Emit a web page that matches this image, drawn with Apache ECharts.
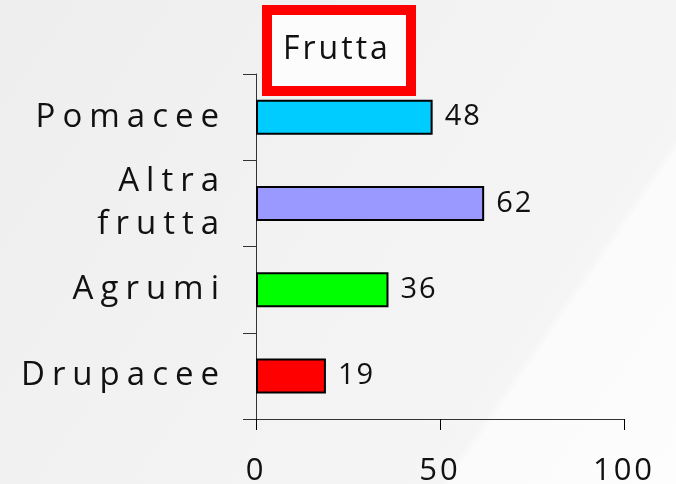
<!DOCTYPE html>
<html>
<head>
<meta charset="utf-8">
<script src="https://cdn.jsdelivr.net/npm/echarts@6/dist/echarts.min.js"></script>
<style>
html,body{margin:0;padding:0;background:#f3f3f3;}
#chart{width:676px;height:484px;}
</style>
</head>
<body>
<div id="chart"></div>
<script>
// ---- data ----
const categories = ['Drupacee', 'Agrumi', 'Altra\nfrutta', 'Pomacee'];
const values = [19, 36, 62, 48];
const barColors = ['#ff0000', '#00ff00', '#9999ff', '#00ccff'];
const xTicks = [0, 50, 100];
const titleText = 'Frutta';

// letter spacing per font size (the reference uses wide tracking)
const spacingBySize = {33: '7px', 32: '3px', 29: '2px', 31: '3px'};
const origFill = CanvasRenderingContext2D.prototype.fillText;
CanvasRenderingContext2D.prototype.fillText = function (t, x, y, m) {
  const mm = /(\d+)px/.exec(this.font || '');
  const prev = this.letterSpacing;
  if (mm && spacingBySize[mm[1]] && 'letterSpacing' in this) this.letterSpacing = spacingBySize[mm[1]];
  const r = m === undefined ? origFill.call(this, t, x, y) : origFill.call(this, t, x, y, m);
  if ('letterSpacing' in this) this.letterSpacing = prev;
  return r;
};

const FONT = "'Open Sans', 'Noto Sans', sans-serif";
const chart = echarts.init(document.getElementById('chart'), null, {renderer: 'canvas'});

chart.setOption({
  animation: false,
  backgroundColor: 'transparent',
  graphic: [{
    type: 'rect', z: -10, silent: true,
    shape: {x: 0, y: 0, width: 676, height: 484},
    style: {
      fill: new echarts.graphic.LinearGradient(0, 0, 686, 469, [
        {offset: 0, color: '#eeeeee'},
        {offset: 0.765, color: '#f5f5f5'},
        {offset: 0.775, color: '#fbfbfb'},
        {offset: 1, color: '#fdfdfd'}
      ], true)
    }
  }],
  title: {
    text: titleText,
    left: 267, top: 10,
    padding: [24, 38, 25, 16],
    backgroundColor: '#fcfcfc',
    borderColor: '#ff0000',
    borderWidth: 10,
    textStyle: {fontFamily: FONT, fontSize: 32, fontWeight: 'normal', color: '#111'}
  },
  grid: {left: 256, right: 52, top: 74, bottom: 65, containLabel: false, outerBoundsMode: 'none'},
  xAxis: {
    type: 'value', min: 0, max: 100, interval: 50,
    splitLine: {show: false},
    axisLine: {show: true, lineStyle: {color: '#333', width: 1}},
    axisTick: {show: true, length: 11, lineStyle: {color: '#000', width: 1}},
    axisLabel: {
      fontFamily: FONT, fontSize: 31, color: '#111', margin: 37,
      formatter: v => xTicks.includes(v) ? String(v) : ''
    }
  },
  yAxis: {
    type: 'category', data: categories,
    axisLine: {show: true, lineStyle: {color: '#333', width: 1}},
    axisTick: {show: true, length: 13, lineStyle: {color: '#333', width: 1}},
    axisLabel: {fontFamily: FONT, fontSize: 33, color: '#111', margin: 30, lineHeight: 43, align: 'right'}
  },
  series: [{
    type: 'bar',
    data: values.map((v, i) => ({value: v, itemStyle: {color: barColors[i]}})),
    barWidth: 35,
    itemStyle: {borderColor: '#000', borderWidth: 2},
    label: {show: true, position: 'right', distance: 12, fontFamily: FONT, fontSize: 29, color: '#111'}
  }]
});
</script>
</body>
</html>
